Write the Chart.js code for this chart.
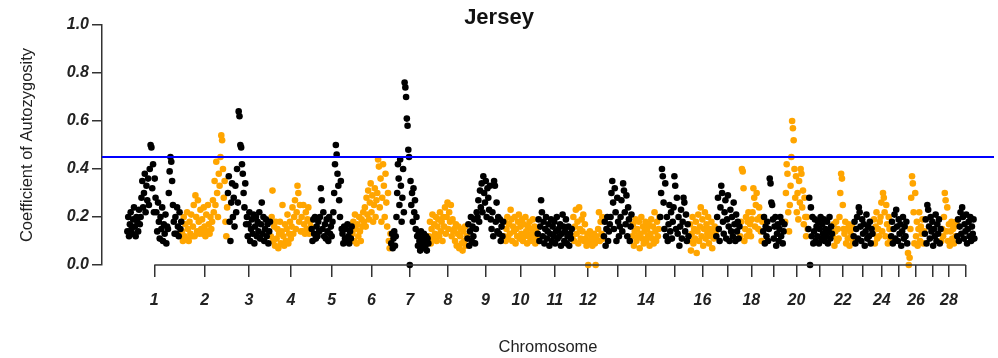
<!DOCTYPE html>
<html>
<head>
<meta charset="utf-8">
<title>Jersey</title>
<script src="https://cdn.jsdelivr.net/npm/chart.js@4"></script>
<style>
  html, body { margin: 0; padding: 0; background: #fff; }
  #wrap { width: 998px; height: 358px; }
</style>
</head>
<body>
<div id="wrap"><canvas id="chart" width="998" height="358"></canvas></div>
<script>
// chromosome names, lengths (Mb) and tick labels
const chromosomes = ['1','2','3','4','5','6','7','8','9','10','11','12','13','14','15',
  '16','17','18','19','20','21','22','23','24','25','26','27','28','29'];
const chrLength = [162,136,127,121,121,115,112,114,108,100,103,93,84,83,86,80,71,68,65,69,72,62,58,53,50,50,49,47,53];
const tickLabels = ['1','2','3','4','5','6','7','8','9','10','11','12','','14','','16','','18','','20','','22','','24','','26','','28',''];
const threshold = 0.45;

// coefficient of autozygosity along each chromosome (evenly spaced markers)
const chr1 = [0.14,0.2,0.12,0.17,0.22,0.15,0.13,0.19,0.24,0.16,0.12,0.2,0.18,0.14,0.23,0.17,
  0.2,0.28,0.35,0.24,0.3,0.38,0.22,0.33,0.27,0.36,
  0.25,0.4,0.5,0.49,0.32,0.42,0.22,0.36,0.28,
  0.22,0.14,0.26,0.18,0.11,0.2,0.15,0.24,0.1,0.17,0.13,0.21,0.09,0.16,
  0.15,0.3,0.39,0.45,0.43,0.35,0.25,0.18,0.13,
  0.2,0.13,0.24,0.16,0.12,0.22,0.15,0.18];
const chr2 = [0.14,0.1,0.2,0.12,0.17,0.11,0.22,0.15,0.1,0.18,0.13,0.21,0.12,
  0.16,0.25,0.12,0.29,0.2,0.14,0.27,0.18,0.13,0.23,0.15,
  0.19,0.13,0.24,0.16,0.12,0.21,0.14,0.25,0.17,0.13,0.2,0.15,
  0.18,0.27,0.22,0.35,0.25,0.43,0.3,0.2,0.38,
  0.33,0.45,0.54,0.52,0.4,0.28,0.35,0.18,0.12,0.24];
const chr3 = [0.3,0.37,0.18,0.1,0.26,0.34,
  0.2,0.28,0.16,0.33,0.22,0.4,0.26,0.64,0.62,0.5,0.49,0.42,0.38,0.3,0.24,0.34,0.17,
  0.2,0.12,0.17,0.22,0.1,0.15,0.19,0.13,0.21,0.09,0.16,0.2,0.12,0.18,0.14,0.22,0.11,0.17,0.26,0.13,0.2,0.1,0.15,0.19,0.12,0.17,0.09,0.14,0.18];
const chr4 = [0.12,0.2,0.31,0.1,0.16,0.08,0.18,
  0.11,0.15,0.07,0.13,0.18,0.09,0.14,0.25,0.12,0.08,0.17,0.1,0.15,0.21,0.09,0.13,0.18,0.11,
  0.16,0.24,0.13,0.2,0.27,0.15,0.22,0.33,0.3,0.18,0.25,0.14,
  0.2,0.14,0.25,0.17,0.13,0.22,0.15,0.19,0.24,0.13,0.18,0.16];
const chr5 = [0.15,0.1,0.19,0.13,0.2,0.11,0.16,0.12,0.18,0.14,
  0.2,0.32,0.27,0.15,0.22,0.12,
  0.17,0.11,0.19,0.14,0.1,0.2,0.13,0.16,0.12,0.18,
  0.22,0.3,0.42,0.5,0.46,0.38,0.33,0.27,0.2,0.35,0.15,
  0.13,0.09,0.16,0.11,0.15,0.1,0.17,0.12,0.09,0.14,0.11,0.16];
const chr6 = [0.13,0.18,0.1,0.21,0.15,0.09,0.17,0.12,0.2,0.14,0.1,0.19,0.16,0.22,
  0.18,0.24,0.16,0.28,0.21,0.31,0.19,0.26,0.34,0.22,0.29,0.18,0.25,0.32,0.2,0.27,
  0.3,0.44,0.41,0.24,0.36,0.18,0.28,0.42,0.33,0.2,0.38,0.26,0.16,0.3,
  0.1,0.07,0.13];
const chr7 = [0.09,0.13,0.07,0.11,0.14,0.08,0.12,
  0.2,0.3,0.42,0.36,0.25,0.44,0.33,0.18,0.28,0.4,0.22,
  0.76,0.74,0.7,0.61,0.58,0.48,
  0.45,0.0,0.35,0.25,0.3,0.18,0.32,0.22,0.27,0.15,0.2,
  0.12,0.08,0.13,0.1,0.06,0.14,0.09,0.11,0.07,0.13,0.1,0.08,0.12,0.06,0.11,0.09];
const chr8 = [0.12,0.18,0.09,0.15,0.21,0.11,0.17,0.13,0.2,0.1,0.16,0.19,0.12,0.22,0.14,0.18,0.1,0.2,
  0.16,0.24,0.13,0.2,0.26,0.15,0.22,0.18,0.25,0.12,0.19,0.14,
  0.15,0.1,0.17,0.08,0.13,0.16,0.07,0.12,0.15,0.09,0.06,0.14,0.1,0.16,0.08,0.12];
const chr9 = [0.11,0.17,0.08,0.14,0.2,0.1,0.16,0.12,0.19,0.09,0.15,0.22,
  0.2,0.27,0.18,0.31,0.24,0.34,0.22,0.37,0.3,0.26,0.35,0.2,0.32,0.28,0.23,0.33,0.19,
  0.15,0.22,0.12,0.35,0.33,0.18,0.26,0.14,0.2,
  0.13,0.19,0.1,0.16,0.12,0.18];
const chr10 = [0.12,0.18,0.1,0.15,0.2,0.11,0.17,0.13,0.23,0.19,0.1,0.16,0.14,0.2,0.09,0.15,0.12,0.18,0.21,0.11,
  0.16,0.13,0.19,0.1,0.17,0.12,0.2,0.14,0.09,0.16,0.12,0.18,0.1,0.15,0.13,0.19,0.11,0.16,0.09,0.14,0.12];
const chr11 = [0.13,0.19,0.1,0.16,0.27,0.22,0.12,0.18,0.09,0.15,0.2,0.11,0.14,0.17,0.08,0.13,0.19,0.1,0.16,0.12,
  0.18,0.09,0.14,0.2,0.11,0.15,0.12,0.17,0.08,0.13,0.21,0.16,0.1,0.14,0.19,0.09,0.12,0.16,0.08,0.13,0.11,0.15];
const chr12 = [0.12,0.2,0.1,0.16,0.23,0.13,0.18,0.09,0.24,0.15,0.11,0.19,0.14,0.21,0.1,0.17,
  0.11,0.08,0.13,0.0,0.1,0.14,0.09,0.12,0.08,0.11,0.13,0.09,0.0,0.12,0.1,
  0.15,0.22,0.1,0.18,0.13,0.2,0.11];
const chr13 = [0.12,0.18,0.08,0.15,0.2,0.1,0.14,0.17,
  0.2,0.3,0.35,0.26,0.15,0.32,0.22,0.1,0.28,0.18,
  0.12,0.16,
  0.2,0.27,0.14,0.34,0.31,0.22,0.17,0.29,0.12,0.24,0.19,0.1,0.16,0.21];
const chr14 = [0.12,0.17,0.08,0.14,0.19,0.1,0.15,0.12,0.18,0.07,0.13,0.2,0.11,0.16,0.09,0.14,0.18,
  0.1,0.15,0.12,0.17,0.08,0.13,0.19,0.11,0.16,0.09,0.22,0.14,0.1,0.18,0.12,0.15,0.2];
const chr15 = [0.2,0.3,0.4,0.37,0.26,0.15,0.34,
  0.12,0.2,0.1,0.17,0.25,0.14,0.22,0.11,0.18,
  0.24,0.37,0.33,0.15,0.28,
  0.13,0.2,0.08,0.16,0.23,0.11,0.18,0.28,0.26,0.14,0.21,0.1,0.17,0.12];
const chr16 = [0.1,0.17,0.06,0.13,0.2,0.09,0.15,0.11,0.18,0.05,0.14,0.21,0.1,0.16,0.24,0.12,0.19,
  0.08,0.15,0.22,0.11,0.17,0.13,0.2,0.09,0.15,0.12,0.18,0.07,0.14,0.11,0.16,0.13];
const chr17 = [0.12,0.2,0.28,0.15,0.1,0.24,0.33,0.3,0.18,0.13,0.22,0.27,0.11,0.19,0.29,
  0.16,0.1,0.23,0.14,0.2,0.12,0.26,0.17,0.1,0.21,0.14,0.18,0.11,0.16];
const chr18 = [0.12,0.18,0.4,0.39,0.32,0.1,
  0.15,0.2,0.12,0.18,0.22,0.14,0.17,0.12,0.19,
  0.22,0.32,0.28,0.16,0.25,0.3,0.19,0.15,0.24,0.2,
  0.14,0.1,0.18];
const chr19 = [0.14,0.2,0.09,0.16,0.12,0.18,0.1,0.15,0.36,0.34,0.26,0.25,0.19,0.11,
  0.16,0.2,0.08,0.13,0.17,0.1,0.15,0.2,0.12,0.18,0.09,0.14,0.17];
const chr20 = [0.18,0.3,0.42,0.38,0.22,0.14,
  0.25,0.33,0.45,0.6,0.57,0.52,0.4,0.28,0.37,
  0.22,0.3,0.19,0.35,0.26,0.4,0.38,0.24,0.31,0.17,0.28,0.2,
  0.12,0.2,0.15];
const chr21 = [0.15,0.28,0.0,0.24,0.12,0.2,0.09,
  0.14,0.19,0.1,0.16,0.12,0.18,0.09,0.15,0.2,0.11,0.17,0.13,0.19,0.1,0.15,0.12,0.18,0.09,0.14,0.2,0.11,0.16,0.13];
const chr22 = [0.12,0.17,0.08,0.14,0.18,0.1,0.15,0.11,
  0.2,0.3,0.38,0.36,0.25,0.15,
  0.13,0.18,0.09,0.15,0.11,0.17,0.08,0.14,0.12,0.16,0.1];
const chr23 = [0.12,0.18,0.09,0.15,0.2,0.11,0.24,0.22,0.16,0.1,0.19,0.13,0.17,0.08,0.14,0.21,0.11,0.16,0.12,0.18,0.09,0.15,0.13];
const chr24 = [0.13,0.19,0.09,0.16,0.22,0.11,0.15,0.12,0.18,
  0.2,0.26,0.14,0.3,0.28,0.22,0.12,0.25,0.17,0.09,0.2,0.15,0.11];
const chr25 = [0.12,0.18,0.09,0.15,0.21,0.11,0.23,0.16,0.1,0.19,0.13,0.17,0.08,0.14,0.2,0.11,0.16,0.12,0.18,0.09];
const chr26 = [0.05,0.0,0.03,
  0.15,0.28,0.37,0.34,0.22,0.09,0.3,
  0.12,0.18,0.08,0.15,0.22,0.1,0.16,0.13,0.19,0.09,0.14];
const chr27 = [0.13,0.19,0.09,0.25,0.23,0.16,0.11,0.2,0.14,0.18,0.08,0.15,0.12,0.21,0.1,0.17,0.13,0.19,0.09,0.15];
const chr28 = [0.1,0.15,0.12,
  0.2,0.3,0.27,0.14,0.24,
  0.1,0.17,0.08,0.14,0.18,0.11,0.15,0.09,0.16,0.12,0.18];
const chr29 = [0.12,0.19,0.1,0.16,0.22,0.13,0.24,0.2,0.11,0.17,0.14,0.21,0.09,0.15,0.18,0.12,0.2,0.1,0.16,0.13,0.19,0.11];

const autozygosity = [chr1,chr2,chr3,chr4,chr5,chr6,chr7,chr8,chr9,chr10,chr11,chr12,chr13,chr14,chr15,
  chr16,chr17,chr18,chr19,chr20,chr21,chr22,chr23,chr24,chr25,chr26,chr27,chr28,chr29];

// build scatter points: odd chromosomes black, even chromosomes orange
const oddPoints = [];
const evenPoints = [];
const centers = [];
let offset = 0;
chromosomes.forEach((c, i) => {
    const len = chrLength[i];
    const vals = autozygosity[i];
    vals.forEach((v, j) => {
        const pt = { x: offset + (j + 0.5) / vals.length * len, y: v };
        if (i % 2 === 0) oddPoints.push(pt); else evenPoints.push(pt);
    });
    centers.push(offset + len / 2);
    offset += len;
});

// plot area spans a bit more than the genome on both sides
const xMin = -74;
const xMax = 2569;

const axisColor = "#333";
const tickFont = { family: "'Liberation Sans', Arial, sans-serif", size: 16, weight: "bold", style: "italic" };

// draw the x axis line only between the first and last chromosome tick
const xAxisLine = {
    id: "xAxisLine",
    afterDraw(chart) {
        const { ctx, chartArea } = chart;
        const xs = chart.scales.x;
        ctx.save();
        ctx.strokeStyle = axisColor;
        ctx.lineWidth = 1.5;
        ctx.beginPath();
        ctx.moveTo(xs.getPixelForValue(centers[0]), chartArea.bottom);
        ctx.lineTo(xs.getPixelForValue(centers[centers.length - 1]), chartArea.bottom);
        ctx.stroke();
        ctx.restore();
    }
};

Chart.defaults.font.family = "'Liberation Sans', Arial, sans-serif";
Chart.defaults.color = "#222";

new Chart(document.getElementById("chart"), {
    type: "scatter",
    data: {
        datasets: [
            {
                type: "line",
                label: "threshold",
                data: [{ x: xMin, y: threshold }, { x: xMax, y: threshold }],
                borderColor: "#0000ff",
                borderWidth: 2,
                pointRadius: 0,
                fill: false
            },
            {
                label: "odd",
                data: oddPoints,
                backgroundColor: "#000000",
                pointRadius: 3.3,
                borderWidth: 0,
                clip: false
            },
            {
                label: "even",
                data: evenPoints,
                backgroundColor: "#ffa500",
                pointRadius: 3.3,
                borderWidth: 0,
                clip: false
            }
        ]
    },
    options: {
        responsive: false,
        animation: false,
        devicePixelRatio: 1,
        layout: { padding: 0 },
        plugins: {
            legend: { display: false },
            tooltip: { enabled: false },
            title: {
                display: true,
                text: "Jersey",
                color: "#111",
                font: { size: 22, weight: "bold", lineHeight: "15px" },
                padding: { top: 10, bottom: 0 }
            }
        },
        scales: {
            x: {
                type: "linear",
                min: xMin,
                max: xMax,
                afterBuildTicks: (scale) => {
                    scale.ticks = centers.map((v) => ({ value: v }));
                },
                afterFit: (scale) => {
                    scale.height = 93;
                },
                ticks: {
                    autoSkip: false,
                    maxRotation: 0,
                    padding: 14,
                    font: tickFont,
                    color: "#222",
                    callback: (value, index) => tickLabels[index]
                },
                grid: {
                    drawOnChartArea: false,
                    drawTicks: true,
                    tickLength: 12,
                    color: axisColor,
                    lineWidth: 1.5
                },
                border: { display: false },
                title: {
                    display: true,
                    text: "Chromosome",
                    color: "#222",
                    font: { size: 16.5 },
                    padding: { top: 0, bottom: 1 }
                }
            },
            y: {
                min: 0,
                max: 1,
                afterFit: (scale) => {
                    scale.width = 102;
                },
                ticks: {
                    stepSize: 0.2,
                    padding: 3,
                    font: tickFont,
                    color: "#222",
                    callback: (value) => value.toFixed(1)
                },
                grid: {
                    drawOnChartArea: false,
                    drawTicks: true,
                    tickLength: 10,
                    color: axisColor,
                    lineWidth: 1.5
                },
                border: { display: true, color: axisColor, width: 1.5 },
                title: {
                    display: true,
                    text: "Coefficient of Autozygosity",
                    color: "#222",
                    font: { size: 16.5 },
                    padding: { top: 18, bottom: 0 }
                }
            }
        }
    },
    plugins: [xAxisLine]
});
</script>
</body>
</html>
